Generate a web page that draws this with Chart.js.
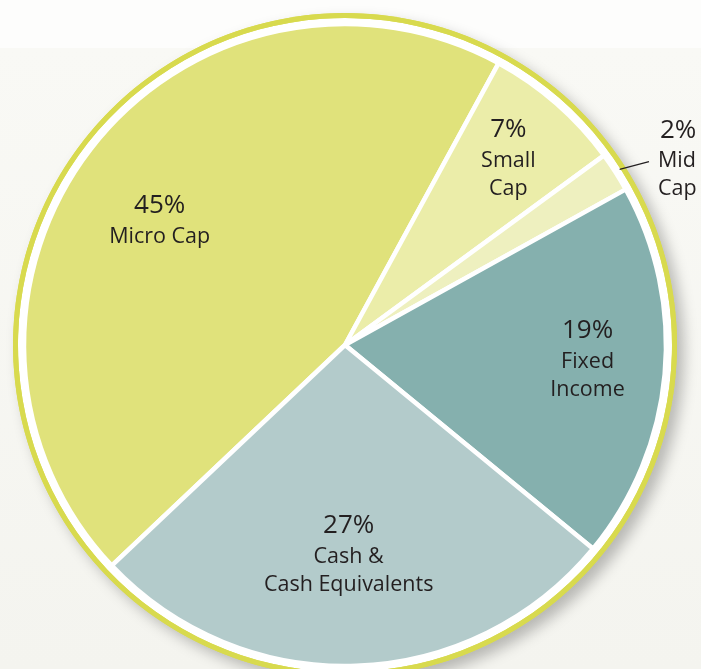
<!DOCTYPE html>
<html>
<head>
<meta charset="utf-8">
<script src="https://cdn.jsdelivr.net/npm/chart.js@4"></script>
<style>
  html, body { margin: 0; padding: 0; overflow: hidden; }
  body {
    width: 701px; height: 669px;
    background: linear-gradient(#fdfdfc 0, #fdfdfc 48px, #f9f9f5 48px, #f4f4ef 100%);
  }
  #wrap { position: absolute; left: 0; top: 0; width: 701px; height: 690px; }
</style>
</head>
<body>
<div id="wrap"><canvas id="pieChart"></canvas></div>
<script>
const categories = ['Micro Cap', 'Small Cap', 'Mid Cap', 'Fixed Income', 'Cash & Cash Equivalents'];
const shares = [45, 7, 2, 19, 27];
const pctLabels = ['45%', '7%', '2%', '19%', '27%'];
const nameLines = [['Micro Cap'], ['Small', 'Cap'], ['Mid', 'Cap'], ['Fixed', 'Income'], ['Cash &', 'Cash Equivalents']];

const sliceColors = ['#e0e27b', '#ebeda9', '#eef0bf', '#85b0ae', '#b3cbcb'];
const ringColor = '#d8da4e';
const textColor = '#231f20';
// label placement: distance from centre, angle shift in degrees
const labelPlace = [
  { r: 223, da: -3.8 },
  { r: 248, da: 0 },
  { r: 364, da: 1.9 },
  { r: 243, da: -1.7 },
  { r: 210, da: 1 }
];

const pieLabels = {
  id: 'pieLabels',
  beforeDatasetsDraw(chart) {
    const arc = chart.getDatasetMeta(0).data[0];
    const { x, y, outerRadius } = arc.getProps(['x', 'y', 'outerRadius'], true);
    const ctx = chart.ctx;
    ctx.save();
    ctx.shadowColor = 'rgba(0,0,0,0.25)';
    ctx.shadowBlur = 14;
    ctx.shadowOffsetX = 7;
    ctx.shadowOffsetY = 7;
    ctx.fillStyle = ringColor;
    ctx.beginPath();
    ctx.arc(x, y, outerRadius, 0, Math.PI * 2);
    ctx.fill();
    ctx.restore();
  },
  afterDatasetsDraw(chart) {
    const ctx = chart.ctx;
    const meta = chart.getDatasetMeta(2);
    ctx.save();
    ctx.fillStyle = textColor;
    ctx.textBaseline = 'middle';
    meta.data.forEach((arc, i) => {
      const p = arc.getProps(['x', 'y', 'startAngle', 'endAngle', 'outerRadius'], true);
      const mid = (p.startAngle + p.endAngle) / 2;
      const a = mid + labelPlace[i].da * Math.PI / 180;
      const outside = labelPlace[i].r > p.outerRadius + 20;
      let cx = p.x + Math.cos(a) * labelPlace[i].r;
      const cy = p.y + Math.sin(a) * labelPlace[i].r;
      ctx.textAlign = outside ? 'left' : 'center';
      const lines = nameLines[i];
      const total = 31 + (lines.length - 1) * 27;
      let ty = cy - total / 2;
      ctx.font = '26px "Open Sans", sans-serif';
      ctx.fillText(pctLabels[i], cx + (outside ? 2 : 0), ty);
      ty += 31;
      ctx.font = '21.5px "Open Sans", sans-serif';
      lines.forEach((ln, k) => {
        ctx.fillText(ln, cx, ty + k * 28);
      });
      if (outside) {
        ctx.strokeStyle = textColor;
        ctx.lineWidth = 1.2;
        ctx.beginPath();
        ctx.moveTo(p.x + Math.cos(mid) * 326, p.y + Math.sin(mid) * 326);
        const b = mid + 1.5 * Math.PI / 180;
        ctx.lineTo(p.x + Math.cos(b) * 355, p.y + Math.sin(b) * 355);
        ctx.stroke();
      }
    });
    ctx.restore();
  }
};

new Chart(document.getElementById('pieChart'), {
  type: 'pie',
  data: {
    labels: categories,
    datasets: [
      { data: [100], backgroundColor: [ringColor], borderWidth: 0, weight: 5 },
      { data: [100], backgroundColor: ['#ffffff'], borderWidth: 0, weight: 6 },
      { data: shares, backgroundColor: sliceColors, borderColor: '#ffffff', borderWidth: 4.5, weight: 321 }
    ]
  },
  options: {
    responsive: true,
    maintainAspectRatio: false,
    animation: false,
    rotation: -133.4,
    layout: { padding: { left: 13, right: 24, top: 13, bottom: 13 } },
    plugins: {
      legend: { display: false },
      tooltip: { enabled: false }
    }
  },
  plugins: [pieLabels]
});
</script>
</body>
</html>
